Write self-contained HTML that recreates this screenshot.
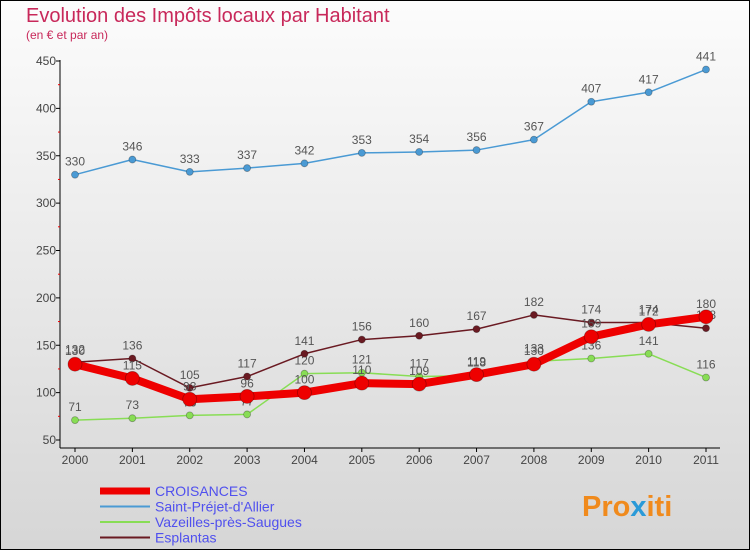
<!DOCTYPE html>
<html><head><meta charset="utf-8"><style>
body{margin:0}
svg text{font-family:"Liberation Sans","DejaVu Sans",sans-serif}
</style></head><body>
<svg width="750" height="550" xmlns="http://www.w3.org/2000/svg">
<defs><linearGradient id="bg" x1="0" y1="0" x2="0" y2="1"><stop offset="0" stop-color="#fcfcfc"/><stop offset="1" stop-color="#d6d6d6"/></linearGradient></defs>
<rect x="0.5" y="0.5" width="749" height="549" fill="url(#bg)" stroke="#000"/>
<text x="26" y="22" font-size="20" fill="#c8285a">Evolution des Impôts locaux par Habitant</text>
<text x="26" y="39" font-size="12" fill="#c8285a">(en € et par an)</text>
<g id="axes"></g>
<g id="series"></g>
<g id="legend"></g>
<text x="582" y="516" font-size="29" font-weight="bold" fill="#f08a1c">Pro<tspan fill="#2a9ad8">x</tspan>iti</text>
</svg>
<script>
const years=["2000","2001","2002","2003","2004","2005","2006","2007","2008","2009","2010","2011"];
const yTicks=[50,100,150,200,250,300,350,400,450];
const croisances=[130,115,93,96,100,110,109,119,130,159,172,180];
const saintPrejet=[330,346,333,337,342,353,354,356,367,407,417,441];
const vazeilles=[71,73,76,77,120,121,117,118,133,136,141,116];
const esplantas=[132,136,105,117,141,156,160,167,182,174,174,168];
const NS="http://www.w3.org/2000/svg";
const X=i=>75+i*(706-75)/11;
const Y=v=>440-(v-50)*(440-61)/400;
function mk(tag,attrs,parent,txt){const e=document.createElementNS(NS,tag);for(const k in attrs)e.setAttribute(k,attrs[k]);if(txt!==undefined)e.textContent=txt;parent.appendChild(e);return e;}
const ax=document.getElementById('axes');
let l=mk('line',{x1:60,y1:60,x2:60,y2:448,stroke:'#000'},ax);


l=mk('line',{x1:60,y1:448,x2:720,y2:448,stroke:'#000'},ax);


yTicks.forEach(v=>{const t=mk('text',{x:56,y:Y(v)+4,'font-size':12,fill:'#444','text-anchor':'end'},ax,v);


mk('line',{x1:56,y1:Y(v),x2:60,y2:Y(v),stroke:'#000'},ax);
if(v<450)mk('line',{x1:58,y1:Y(v+25),x2:60,y2:Y(v+25),stroke:'#e00'},ax);});
years.forEach((y,i)=>{const t=mk('text',{x:X(i),y:464,'font-size':12,fill:'#444','text-anchor':'middle'},ax,y);


mk('line',{x1:X(i),y1:448,x2:X(i),y2:452,stroke:'#000'},ax);});
const sg=document.getElementById('series');
const defs=[
{d:saintPrejet,c:'#4a9ad4',w:1.5,r:3.5,name:'saint-prejet'},
{d:vazeilles,c:'#88dd55',w:1.5,r:3.5,name:'vazeilles'},
{d:esplantas,c:'#6a1a22',w:1.5,r:3.5,name:'esplantas'},
{d:croisances,c:'#ee0000',w:8,r:7,name:'croisances'}];
defs.forEach(s=>{const g=mk('g',{},sg);


mk('polyline',{points:s.d.map((v,i)=>X(i)+','+Y(v)).join(' '),fill:'none',stroke:s.c,'stroke-width':s.w,'stroke-linejoin':'round'},g);
s.d.forEach((v,i)=>{const c=mk('circle',{cx:X(i),cy:Y(v),r:s.r,fill:s.c,stroke:'rgba(0,0,0,0.3)','stroke-width':0.8},g);


const t=mk('text',{x:X(i),y:Y(v)-9,'font-size':12,fill:'#555','text-anchor':'middle'},g,v);

});});
const lg=document.getElementById('legend');
const items=[['CROISANCES','#ee0000',7],['Saint-Préjet-d\'Allier','#4a9ad4',2],['Vazeilles-près-Saugues','#88dd55',2],['Esplantas','#6a1a22',2]];
items.forEach((it,i)=>{const y=491+i*15.5;const g=mk('g',{},lg);


mk('line',{x1:100,y1:y,x2:150,y2:y,stroke:it[1],'stroke-width':it[2]},g);
mk('text',{x:155,y:y+5,'font-size':14,fill:'#5050ee'},g,it[0]);});
</script>
</body></html>
